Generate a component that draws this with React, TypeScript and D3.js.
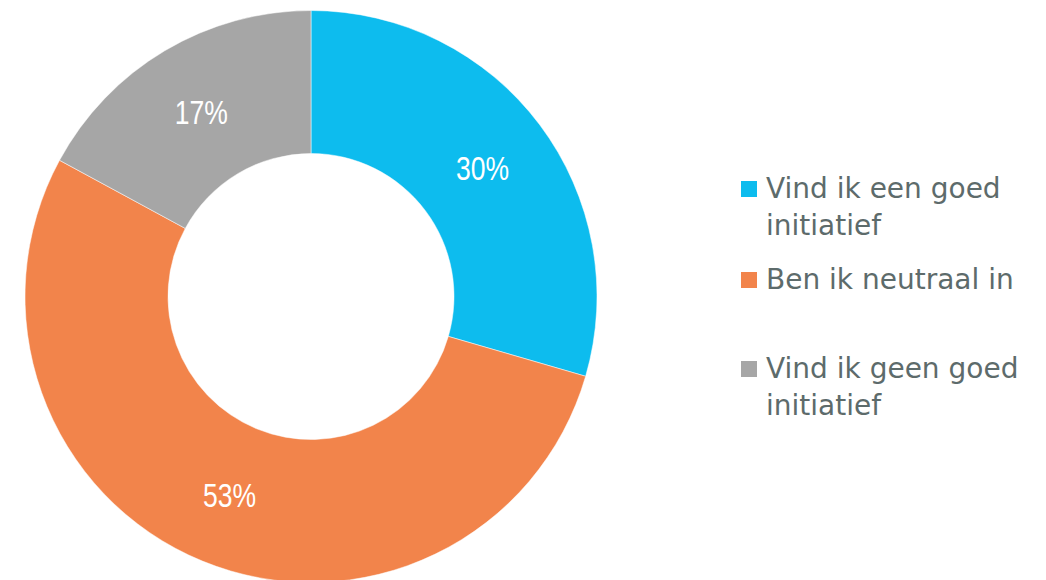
import React from "react";
import * as d3 from "d3";

const categories = ["Vind ik een goed initiatief", "Ben ik neutraal in", "Vind ik geen goed initiatief"];
const values = [29.5, 53.4, 17.1];
const colors = ["#0dbcee", "#f2844b", "#a6a6a6"];
const legendLines = [["Vind ik een goed", "initiatief"], ["Ben ik neutraal in"], ["Vind ik geen goed", "initiatief"]];

export default function App() {
  const W = 1046, H = 580;
  const cx = 311, cy = 296.5, R = 286, r = 143;
  const pie = d3.pie<number>().sort(null).value((d) => d);
  const arcs = pie(values);
  const total = d3.sum(values);
  const arc = d3.arc<d3.PieArcDatum<number>>().innerRadius(r).outerRadius(R);
  const legendY = [198, 289, 378];
  return (
    <svg width={W} height={H} style={{ position: "absolute", left: 0, top: 0 }}>
      <g transform={`translate(${cx},${cy})`}>
        {arcs.map((a, i) => (
          <path key={i} d={arc(a) || ""} fill={colors[i]} stroke="#fff" strokeWidth={0.5} />
        ))}
        {arcs.map((a, i) => {
          const [x, y] = arc.centroid(a);
          return (
            <text key={i} transform={`translate(${x},${y}) scale(0.78,1)`} dy="0.36em" textAnchor="middle" fill="#fff"
              fontFamily="'Liberation Sans', Arial, sans-serif" fontSize={34}>
              {`${Math.round((a.data / total) * 100)}%`}
            </text>
          );
        })}
      </g>
      {categories.map((c, i) => (
        <g key={c}>
          <rect x={741} y={legendY[i] - 17} width={16} height={16} fill={colors[i]} />
          <text x={766} y={legendY[i]} fill="#5d6b6b" fontFamily="'DejaVu Sans', sans-serif" fontSize={28}>
            {legendLines[i].map((l, j) => (
              <tspan key={j} x={766} dy={j === 0 ? 0 : 37}>{l}</tspan>
            ))}
          </text>
        </g>
      ))}
    </svg>
  );
}
